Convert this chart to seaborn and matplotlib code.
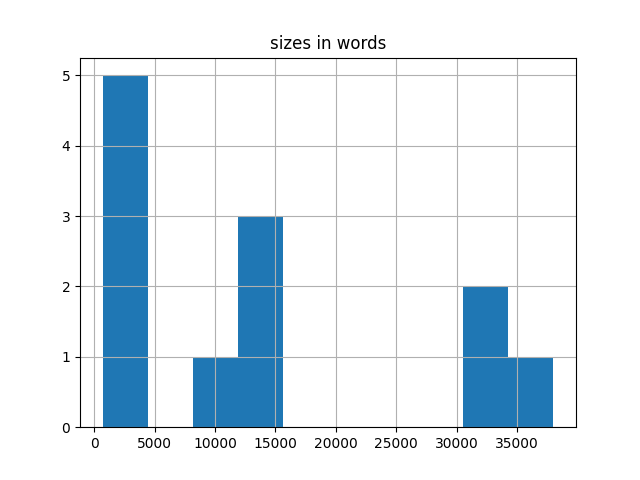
import matplotlib
matplotlib.use("Agg")
import matplotlib.pyplot as plt
import seaborn as sns
import pandas as pd

# word counts per document (estimated from the histogram)
sizes = [700, 1200, 2100, 3000, 4200, 9500, 12500, 13800, 15000, 31500, 33500, 38000]

df = pd.DataFrame({"sizes in words": sizes})

fig, ax = plt.subplots(figsize=(6.4, 4.8), dpi=100)
sns.histplot(data=df, x="sizes in words", bins=10, ax=ax,
             color="#1f77b4", alpha=1.0, linewidth=0, edgecolor="none")
ax.grid(True)
ax.set_title("sizes in words")
ax.set_xlabel("")
ax.set_ylabel("")

fig.savefig("out.png", dpi=100)
